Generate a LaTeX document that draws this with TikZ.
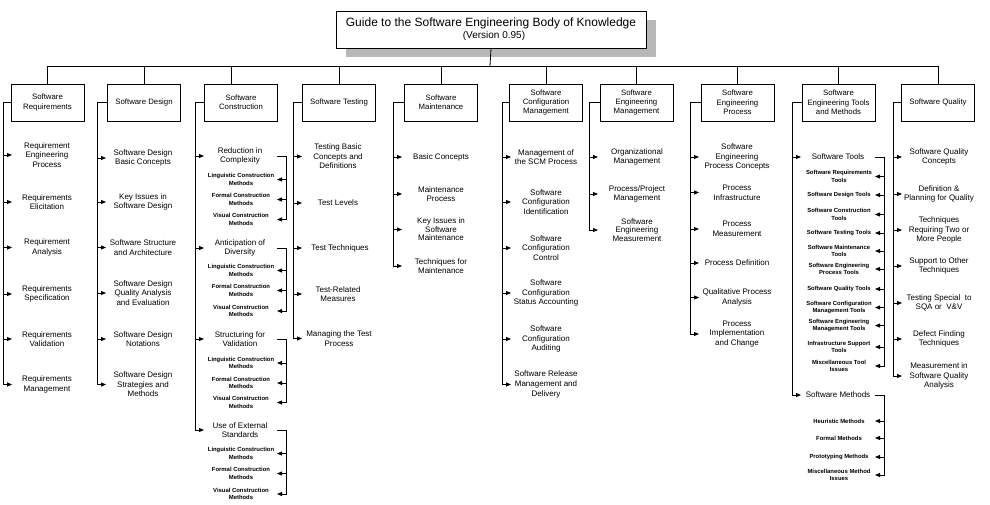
\documentclass[tikz,border=0pt]{standalone}
\usepackage{fontspec}
\setmainfont{Liberation Sans}
\usetikzlibrary{arrows.meta,shadows}
\begin{document}
\begin{tikzpicture}[x=1pt,y=-1pt,
  ln/.style={line width=0.8pt},
  arr/.style={line width=0.8pt,-{Triangle[length=5pt,width=4pt]}},
  topbox/.style={draw,line width=1pt,fill=white,minimum width=73pt,minimum height=37pt,align=center,inner sep=0pt,font=\fontsize{7.8}{9.4}\selectfont},
  item/.style={align=center,inner sep=0pt,font=\fontsize{8}{9.6}\selectfont},
  sub/.style={align=center,inner sep=0pt,font=\fontsize{5.9}{7.4}\selectfont\bfseries},
  titlebox/.style={draw,line width=1pt,fill=white,minimum width=310pt,minimum height=37pt,align=center,inner sep=0pt,
    drop shadow={shadow xshift=10pt,shadow yshift=-9pt,fill=black!28,opacity=1}}]
\useasboundingbox (0,0) rectangle (990,504);
\fill[white] (0,0) rectangle (990,504);

% title
\node[titlebox] (title) at (491,29.5) {{\fontsize{12}{14}\selectfont Guide to the Software Engineering Body of Knowledge}\\{\fontsize{10}{11}\selectfont\hspace*{6pt}(Version 0.95)}};
\coordinate (bus) at (490,66);

% top boxes
\node[topbox] (b1) at (47.5,102.5) {Software\\Requirements};
\node[topbox] (b2) at (144,102.5) {Software Design};
\node[topbox] (b3) at (241,102.5) {Software\\Construction};
\node[topbox] (b4) at (339,102.5) {Software Testing};
\node[topbox] (b5) at (441,102.5) {Software\\Maintenance};
\node[topbox] (b6) at (546,102.5) {Software\\Configuration\\Management};
\node[topbox] (b7) at (636.5,102.5) {Software\\Engineering\\Management};
\node[topbox] (b8) at (737.5,102.5) {Software\\Engineering\\Process};
\node[topbox] (b9) at (838.5,102.5) {Software\\Engineering Tools\\and Methods};
\node[topbox] (b10) at (938,102.5) {Software Quality};

\draw[ln] (title.south) -- (bus);
\draw[ln] (b1.north |- bus) -- (b10.north |- bus);
\foreach \b in {b1,b2,b4,b5,b6,b7,b8,b9,b10} \draw[ln] (\b.north) -- (\b.north |- bus);
\draw[ln] ([xshift=-10pt]b3.north) -- ([xshift=-10pt]b3.north |- bus);

% spine coordinates
\coordinate (s1) at (3,0);   \coordinate (t1) at (12,0);
\coordinate (s2) at (97,0);  \coordinate (t2) at (106,0);
\coordinate (s3) at (195,0); \coordinate (t3) at (204,0);
\coordinate (s4) at (293,0); \coordinate (t4) at (302,0);
\coordinate (s5) at (393,0); \coordinate (t5) at (402,0);
\coordinate (s6) at (502,0); \coordinate (t6) at (511,0);
\coordinate (s7) at (589,0); \coordinate (t7) at (598,0);
\coordinate (s8) at (690,0); \coordinate (t8) at (699,0);
\coordinate (s9) at (792,0); \coordinate (t9) at (801,0);
\coordinate (s10) at (893,0); \coordinate (t10) at (902,0);
\coordinate (k3) at (286,0); \coordinate (u3) at (277,0);
\coordinate (k9) at (884,0); \coordinate (u9) at (875,0);

% column 1
\node[item] (c1a) at (47,155) {Requirement\\Engineering\\Process};
\node[item] (c1b) at (47,202) {Requirements\\Elicitation};
\node[item] (c1c) at (47,247.5) {Requirement\\Analysis};
\node[item] (c1d) at (47,294) {Requirements\\Specification};
\node[item] (c1e) at (47,339) {Requirements\\Validation};
\node[item] (c1f) at (47,384.5) {Requirements\\Management};
\draw[arr] (b1.west) -- (b1.west -| s1) |- (c1f.west -| t1);
\foreach \n in {c1a,c1b,c1c,c1d,c1e} \draw[arr] (\n.west -| s1) -- (\n.west -| t1);

% column 2
\node[item] (c2a) at (143,158) {Software Design\\Basic Concepts};
\node[item] (c2b) at (143,202) {Key Issues in\\Software Design};
\node[item] (c2c) at (143,247.5) {Software Structure\\and Architecture};
\node[item] (c2d) at (143,293) {Software Design\\Quality Analysis\\and Evaluation};
\node[item] (c2e) at (143,339) {Software Design\\Notations};
\node[item] (c2f) at (143,384.5) {Software Design\\Strategies and\\Methods};
\draw[arr] (b2.west) -- (b2.west -| s2) |- (c2f.west -| t2);
\foreach \n in {c2a,c2b,c2c,c2d,c2e} \draw[arr] (\n.west -| s2) -- (\n.west -| t2);

% column 3
\node[item] (c3a) at (240,156) {Reduction in\\Complexity};
\node[sub] (c3a1) at (241,179.5) {Linguistic Construction\\Methods};
\node[sub] (c3a2) at (241,199.5) {Formal Construction\\Methods};
\node[sub] (c3a3) at (241,219.5) {Visual Construction\\Methods};
\node[item] (c3b) at (240,248) {Anticipation of\\Diversity};
\node[sub] (c3b1) at (241,270.5) {Linguistic Construction\\Methods};
\node[sub] (c3b2) at (241,290.5) {Formal Construction\\Methods};
\node[sub] (c3b3) at (241,311) {Visual Construction\\Methods};
\node[item] (c3c) at (240,339) {Structuring for\\Validation};
\node[sub] (c3c1) at (241,363) {Linguistic Construction\\Methods};
\node[sub] (c3c2) at (241,383) {Formal Construction\\Methods};
\node[sub] (c3c3) at (241,402.5) {Visual Construction\\Methods};
\node[item] (c3d) at (240,430) {Use of External\\Standards};
\node[sub] (c3d1) at (241,453.5) {Linguistic Construction\\Methods};
\node[sub] (c3d2) at (241,473.5) {Formal Construction\\Methods};
\node[sub] (c3d3) at (241,494) {Visual Construction\\Methods};
\draw[arr] (b3.west) -- (b3.west -| s3) |- (c3d.west -| t3);
\foreach \n in {c3a,c3b,c3c} \draw[arr] (\n.west -| s3) -- (\n.west -| t3);
\foreach \m in {c3a,c3b,c3c,c3d} {
  \draw[arr] (\m.west -| u3) -- (\m.west -| k3) |- (\m3.west -| u3);
  \foreach \j in {1,2} \draw[arr] (\m\j.west -| k3) -- (\m\j.west -| u3);
}

% column 4
\node[item] (c4a) at (338,156.5) {Testing Basic\\Concepts and\\Definitions};
\node[item] (c4b) at (338,203) {Test Levels};
\node[item] (c4c) at (340,248) {Test Techniques};
\node[item] (c4d) at (338,294) {Test-Related\\Measures};
\node[item] (c4e) at (339,338.5) {Managing the Test\\Process};
\draw[arr] (b4.west) -- (b4.west -| s4) |- (c4e.west -| t4);
\foreach \n in {c4a,c4b,c4c,c4d} \draw[arr] (\n.west -| s4) -- (\n.west -| t4);

% column 5
\node[item] (c5a) at (441,157) {Basic Concepts};
\node[item] (c5b) at (441,194) {Maintenance\\Process};
\node[item,font=\fontsize{8}{8.6}\selectfont] (c5c) at (441,229.5) {Key Issues in\\Software\\Maintenance};
\node[item] (c5d) at (441,266) {Techniques for\\Maintenance};
\draw[arr] (b5.west) -- (b5.west -| s5) |- (c5d.west -| t5);
\foreach \n in {c5a,c5b,c5c} \draw[arr] (\n.west -| s5) -- (\n.west -| t5);

% column 6
\node[item] (c6a) at (546,157) {Management of\\the SCM Process};
\node[item] (c6b) at (546,202) {Software\\Configuration\\Identification};
\node[item] (c6c) at (546,248) {Software\\Configuration\\Control};
\node[item] (c6d) at (546,293) {Software\\Configuration\\Status Accounting};
\node[item] (c6e) at (546,339) {Software\\Configuration\\Auditing};
\node[item] (c6f) at (546,384.5) {Software Release\\Management and\\Delivery};
\draw[arr] (b6.west) -- (b6.west -| s6) |- (c6f.west -| t6);
\foreach \n in {c6a,c6b,c6c,c6d,c6e} \draw[arr] (\n.west -| s6) -- (\n.west -| t6);

% column 7
\node[item] (c7a) at (637,157) {Organizational\\Management};
\node[item] (c7b) at (637,194) {Process/Project\\Management};
\node[item,font=\fontsize{8}{8.8}\selectfont] (c7c) at (637,230) {Software\\Engineering\\Measurement};
\draw[arr] (b7.west) -- (b7.west -| s7) |- (c7c.west -| t7);
\foreach \n in {c7a,c7b} \draw[arr] (\n.west -| s7) -- (\n.west -| t7);

% column 8
\node[item] (c8a) at (737,157) {Software\\Engineering\\Process Concepts};
\node[item] (c8b) at (737,192.5) {Process\\Infrastructure};
\node[item] (c8c) at (737,229) {Process\\Measurement};
\node[item] (c8d) at (737,263) {Process Definition};
\node[item] (c8e) at (737,297.5) {Qualitative Process\\Analysis};
\node[item] (c8f) at (737,334) {Process\\Implementation\\and Change};
\draw[arr] (b8.west) -- (b8.west -| s8) |- (c8f.west -| t8);
\foreach \n in {c8a,c8b,c8c,c8d,c8e} \draw[arr] (\n.west -| s8) -- (\n.west -| t8);

% column 9
\node[item] (c9a) at (838,157) {Software Tools};
\node[sub] (c9a1) at (839,176.5) {Software Requirements\\Tools};
\node[sub] (c9a2) at (839,195) {Software Design Tools};
\node[sub] (c9a3) at (839,214.5) {Software Construction\\Tools};
\node[sub] (c9a4) at (839,233) {Software Testing Tools};
\node[sub] (c9a5) at (839,251) {Software Maintenance\\Tools};
\node[sub,font=\fontsize{5.9}{6.4}\selectfont\bfseries] (c9a6) at (839,269) {Software Engineering\\Process Tools};
\node[sub] (c9a7) at (839,289) {Software Quality Tools};
\node[sub] (c9a8) at (839,307.5) {Software Configuration\\Management Tools};
\node[sub] (c9a9) at (839,325.5) {Software Engineering\\Management Tools};
\node[sub] (c9a10) at (839,347) {Infrastructure Support\\Tools};
\node[sub] (c9a11) at (839,366) {Miscellaneous Tool\\Issues};
\node[item] (c9b) at (838,395) {Software Methods};
\node[sub] (c9b1) at (839,421) {Heuristic Methods};
\node[sub] (c9b2) at (839,438) {Formal Methods};
\node[sub] (c9b3) at (839,457) {Prototyping Methods};
\node[sub] (c9b4) at (839,475) {Miscellaneous Method\\Issues};
\draw[arr] (b9.west) -- (b9.west -| s9) |- (c9b.west -| t9);
\draw[arr] (c9a.west -| s9) -- (c9a.west -| t9);
\draw[arr] (c9a.west -| u9) -- (c9a.west -| k9) |- (c9a11.west -| u9);
\foreach \n in {c9a1,c9a2,c9a3,c9a4,c9a5,c9a6,c9a7,c9a8,c9a9,c9a10} \draw[arr] (\n.west -| k9) -- (\n.west -| u9);
\draw[arr] (c9b.west -| u9) -- (c9b.west -| k9) |- (c9b4.west -| u9);
\foreach \n in {c9b1,c9b2,c9b3} \draw[arr] (\n.west -| k9) -- (\n.west -| u9);

% column 10
\node[item] (c10a) at (939,157) {Software Quality\\Concepts};
\node[item] (c10b) at (939,194) {Definition \&\\Planning for Quality};
\node[item] (c10c) at (939,230) {Techniques\\Requiring Two or\\More People};
\node[item] (c10d) at (939,266) {Support to Other\\Techniques};
\node[item] (c10e) at (939,303) {Testing Special\ \ to\\SQA or\ \ V\&V};
\node[item] (c10f) at (939,339) {Defect Finding\\Techniques};
\node[item] (c10g) at (939,376) {Measurement in\\Software Quality\\Analysis};
\draw[arr] (b10.west) -- (b10.west -| s10) |- (c10g.west -| t10);
\foreach \n in {c10a,c10b,c10c,c10d,c10e,c10f} \draw[arr] (\n.west -| s10) -- (\n.west -| t10);
\end{tikzpicture}
\end{document}
